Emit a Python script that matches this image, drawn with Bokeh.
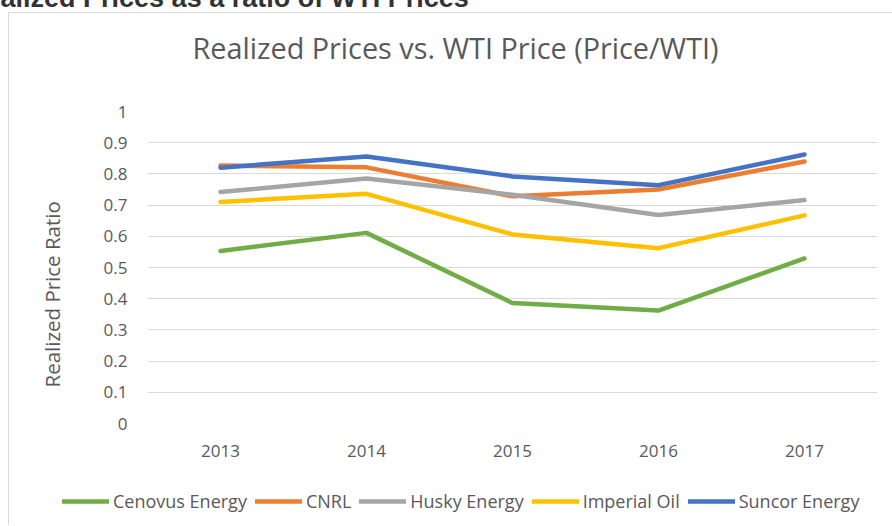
from bokeh.plotting import figure
from bokeh.layouts import column
from bokeh.models import (Range1d, FactorRange, FixedTicker, Legend, LegendItem,
                          Title, ColumnDataSource, Div)
from bokeh.embed import file_html
from bokeh.resources import INLINE

# ---- data ----
years = ["2013", "2014", "2015", "2016", "2017"]
cenovus = [0.553, 0.611, 0.386, 0.362, 0.529]
cnrl = [0.827, 0.821, 0.728, 0.750, 0.840]
husky = [0.742, 0.785, 0.733, 0.668, 0.716]
imperial = [0.710, 0.736, 0.606, 0.562, 0.667]
suncor = [0.820, 0.856, 0.792, 0.764, 0.862]
series_names = ["Cenovus Energy", "CNRL", "Husky Energy", "Imperial Oil", "Suncor Energy"]
series_values = [cenovus, cnrl, husky, imperial, suncor]
series_colors = ["#70AD47", "#ED7D31", "#A5A5A5", "#FFC000", "#4472C4"]
y_ticks = [0, 0.1, 0.2, 0.3, 0.4, 0.5, 0.6, 0.7, 0.8, 0.9, 1]
y_tick_labels = ["0", "0.1", "0.2", "0.3", "0.4", "0.5", "0.6", "0.7", "0.8", "0.9", "1"]
header_text = "Realized Prices as a ratio of WTI Prices"
title_text = "Realized Prices vs. WTI Price (Price/WTI)"
y_title = "Realized Price Ratio"

FONT = "Open Sans"
TXT = "#595959"
GRID = "#d9d9d9"

# ---- main chart ----
p = figure(width=883, height=463, x_range=FactorRange(*years), y_range=Range1d(0, 1),
           output_backend="svg", toolbar_location=None,
           min_border_left=138, min_border_right=15, min_border_top=97, min_border_bottom=53)
p.frame_align = False
p.outline_line_color = None
p.background_fill_color = "white"
p.border_fill_color = "white"

src = ColumnDataSource(dict(x=years, **{f"s{i}": v for i, v in enumerate(series_values)}))
for i, col in enumerate(series_colors):
    p.line(x="x", y=f"s{i}", source=src, line_color=col, line_width=4.5,
           line_cap="round", line_join="round")

p.yaxis.ticker = FixedTicker(ticks=y_ticks)
p.yaxis.major_label_overrides = {t: l for t, l in zip(y_ticks, y_tick_labels)}
for ax in (p.xaxis[0], p.yaxis[0]):
    ax.axis_line_color = None
    ax.major_tick_line_color = None
    ax.minor_tick_line_color = None
    ax.major_tick_out = 0
    ax.major_tick_in = 0
    ax.major_label_text_font = FONT
    ax.major_label_text_font_size = "17px"
    ax.major_label_text_color = TXT
p.yaxis.major_label_standoff = 20
p.xaxis.major_label_standoff = 21
p.xgrid.grid_line_color = None
p.ygrid.grid_line_color = GRID
p.ygrid.grid_line_width = 1

# spacers (closest to the frame) then the real titles
p.add_layout(Title(text=" ", standoff=30, text_font_size="1px"), "above")
p.add_layout(Title(text=title_text, align="left", offset=45, standoff=24,
                   text_font=FONT, text_font_size="28.8px", text_font_style="normal",
                   text_color=TXT), "above")
p.add_layout(Title(text=" ", standoff=27, text_font_size="1px"), "left")
p.add_layout(Title(text=y_title, align="left", offset=36, standoff=10,
                   text_font=FONT, text_font_size="20.5px", text_font_style="normal",
                   text_color=TXT), "left")

# ---- legend strip ----
pl = figure(width=883, height=49, x_range=Range1d(0, 1), y_range=Range1d(0, 1),
            x_axis_type=None, y_axis_type=None, output_backend="svg", toolbar_location=None,
            min_border=0)
pl.frame_align = False
pl.outline_line_color = None
pl.grid.visible = False
pl.background_fill_color = "white"
pl.border_fill_color = "white"
items = []
for name, col in zip(series_names, series_colors):
    r = pl.line(x=[float("nan")], y=[float("nan")], line_color=col, line_width=4.5,
                line_cap="round")
    items.append(LegendItem(label=name, renderers=[r]))
legend = Legend(items=items, orientation="horizontal", location=(53, 12),
                glyph_width=47, glyph_height=20, label_standoff=4, spacing=8,
                padding=0, margin=0, border_line_color=None, background_fill_alpha=0,
                label_text_font=FONT, label_text_font_size="18px", label_text_color=TXT)
pl.add_layout(legend)

chart = column(p, pl, spacing=0)
chart.margin = (4, 0, 0, 8)
chart.styles = {"border-top": "1px solid #d9d9d9", "border-left": "1px solid #d9d9d9"}

# cut-off page heading above the chart
header = Div(text=header_text, width=580, height=20, margin=(-12, 0, 0, -34),
             styles={"font-family": "Liberation Sans, Arial, sans-serif", "font-weight": "bold",
                     "font-size": "27px", "line-height": "20px", "color": "#333333",
                     "white-space": "nowrap"})

page = column(header, chart, spacing=0)

open("out.html", "w").write(file_html(page, INLINE))
